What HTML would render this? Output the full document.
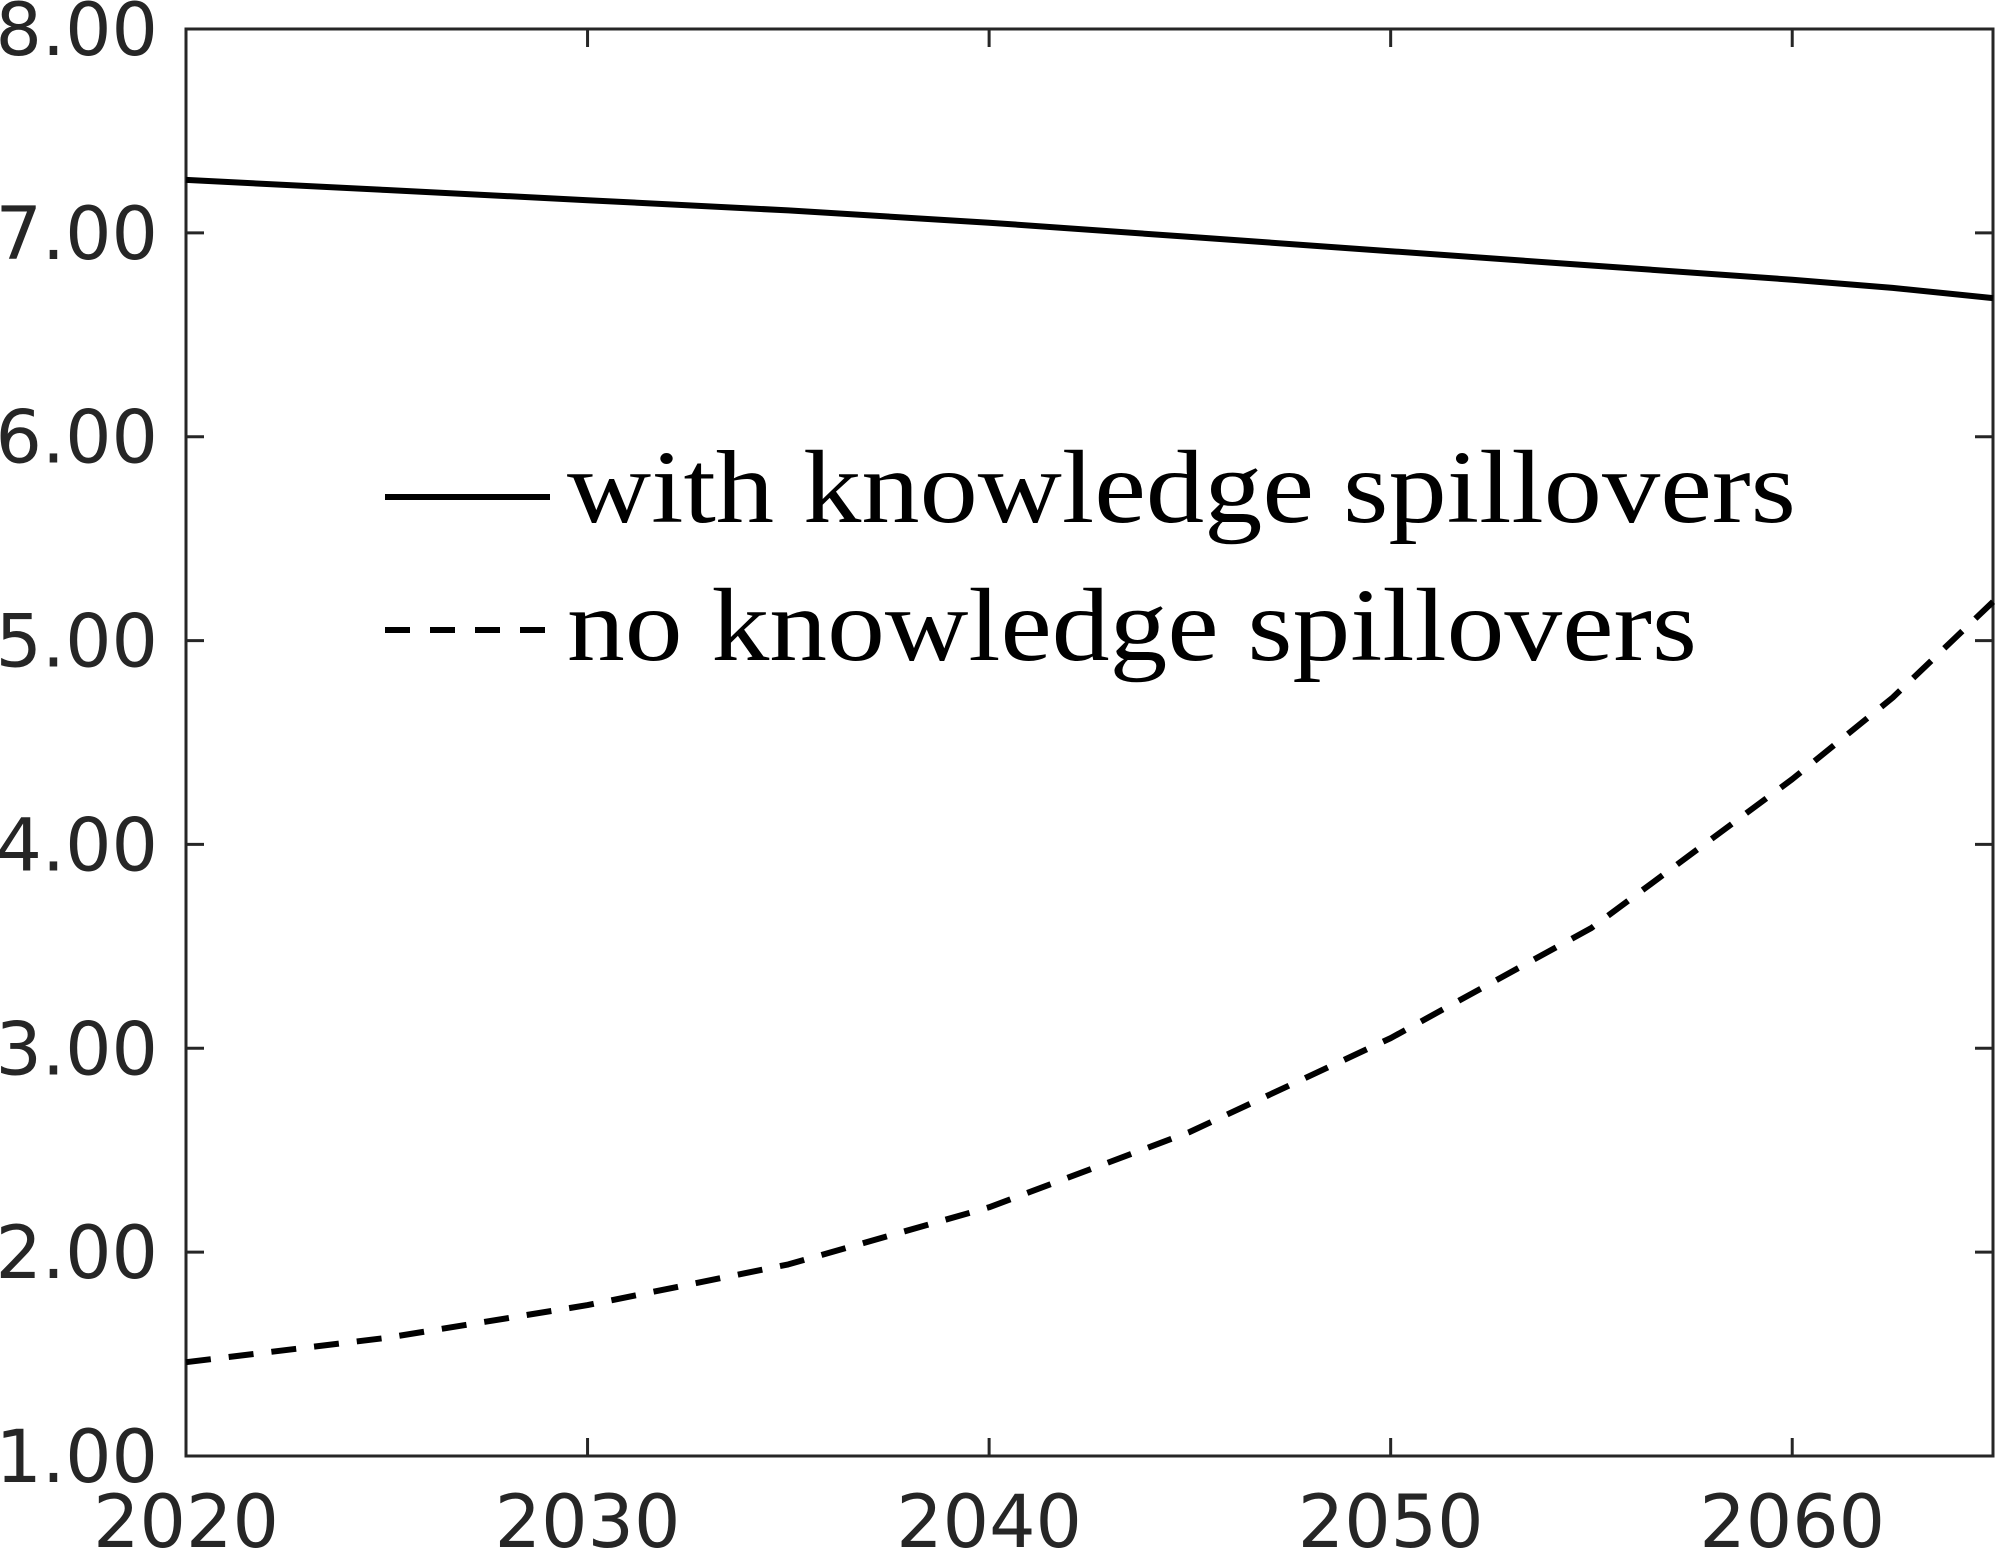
<!DOCTYPE html>
<html><head><meta charset="utf-8"><style>
html,body{margin:0;padding:0;background:#fff;}
svg{display:block;}
.tick{font-family:"DejaVu Sans","Liberation Sans",sans-serif;font-size:73px;fill:#262626;}
.leg{font-family:"Liberation Serif",serif;font-size:104px;fill:#000;}
</style></head><body>
<svg id="chart" width="1997" height="1554" viewBox="0 0 1997 1554" xmlns="http://www.w3.org/2000/svg">
<g id="axes"></g>
<g id="series"></g>
<g id="legend">
  <line x1="385" y1="497" x2="550" y2="497" stroke="#000" stroke-width="6"/>
  <text class="leg" x="567" y="522" textLength="1229" lengthAdjust="spacingAndGlyphs">with knowledge spillovers</text>
  <line x1="385" y1="630" x2="550" y2="630" stroke="#000" stroke-width="6" stroke-dasharray="25,20"/>
  <text class="leg" x="567" y="660" textLength="1130" lengthAdjust="spacingAndGlyphs">no knowledge spillovers</text>
</g>
</svg>
<script>
const xTicks = [2020, 2030, 2040, 2050, 2060];
const yTicks = [1, 2, 3, 4, 5, 6, 7, 8];
const yTickLabels = ["1.00","2.00","3.00","4.00","5.00","6.00","7.00","8.00"];
const years = [2020, 2025, 2030, 2035, 2040, 2045, 2050, 2055, 2060, 2062.5, 2065];
const withSpill = [7.26, 7.21, 7.16, 7.11, 7.05, 6.98, 6.91, 6.84, 6.77, 6.73, 6.68];
const noSpill = [1.46, 1.58, 1.74, 1.94, 2.22, 2.59, 3.05, 3.59, 4.32, 4.72, 5.19];

const L=186, R=1993, T=29, B=1456;
const xMin=2020, xMax=2065, yMin=1, yMax=8;
const sx = v => L + (v - xMin) / (xMax - xMin) * (R - L);
const sy = v => B - (v - yMin) / (yMax - yMin) * (B - T);
const NS="http://www.w3.org/2000/svg";
const axes=document.getElementById('axes'), series=document.getElementById('series');
function mk(tag, attrs, parent){const e=document.createElementNS(NS,tag);for(const k in attrs)e.setAttribute(k,attrs[k]);parent.appendChild(e);return e;}

const frame = mk('rect',{x:L,y:T,width:R-L,height:B-T,fill:'none',stroke:'#262626','stroke-width':3},axes);



xTicks.forEach(v=>{
  const x=sx(v);
  const t1=mk('line',{x1:x,y1:B,x2:x,y2:B-18,stroke:'#262626','stroke-width':3},axes);
  
  
  const t2=mk('line',{x1:x,y1:T,x2:x,y2:T+18,stroke:'#262626','stroke-width':3},axes);
  
  
  const tx=mk('text',{x:x,y:1547,'text-anchor':'middle',class:'tick'},axes);
  tx.textContent=String(v);
  
  
});
yTicks.forEach((v,i)=>{
  const y=sy(v);
  const t1=mk('line',{x1:L,y1:y,x2:L+18,y2:y,stroke:'#262626','stroke-width':3},axes);
  
  
  const t2=mk('line',{x1:R,y1:y,x2:R-18,y2:y,stroke:'#262626','stroke-width':3},axes);
  
  
  const tx=mk('text',{x:158,y:y+26,'text-anchor':'end',class:'tick'},axes);
  tx.textContent=yTickLabels[i];
  
  
});

function pathOf(vals){return years.map((yr,i)=>(i?'L':'M')+sx(yr).toFixed(1)+' '+sy(vals[i]).toFixed(1)).join(' ');}
const p1=mk('path',{d:pathOf(withSpill),fill:'none',stroke:'#000','stroke-width':6,'stroke-linejoin':'round'},series);


const p2=mk('path',{d:pathOf(noSpill),fill:'none',stroke:'#000','stroke-width':6,'stroke-dasharray':'25,18','stroke-linejoin':'round'},series);


</script>
</body></html>
